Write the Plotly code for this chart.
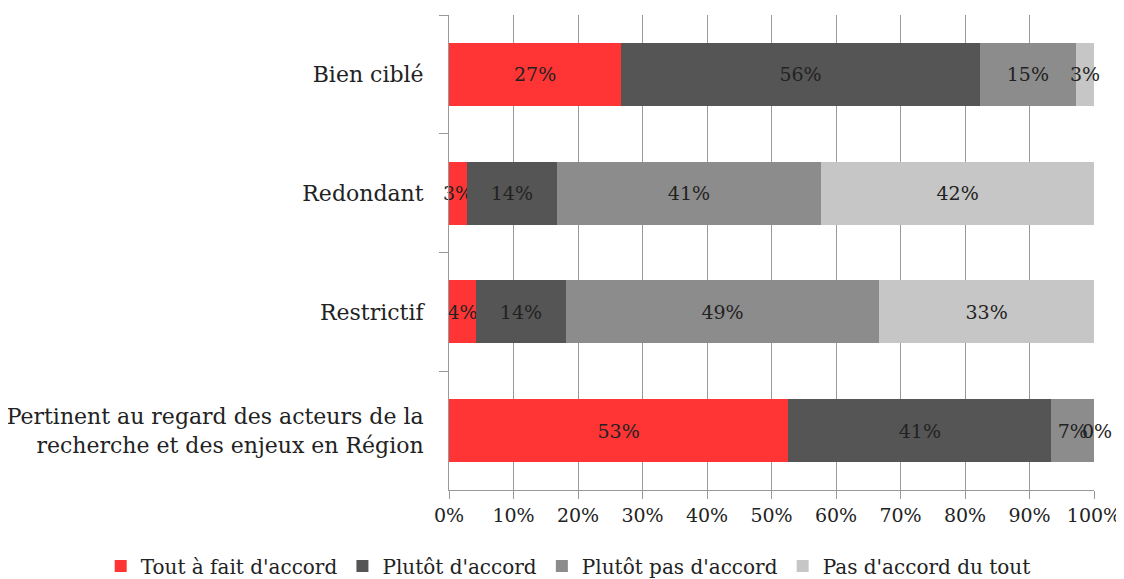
import plotly.graph_objects as go

categories = ["Bien ciblé", "Redondant", "Restrictif",
              "Pertinent au regard des acteurs de la<br>recherche et des enjeux en Région"]
series = ["Tout à fait d'accord", "Plutôt d'accord", "Plutôt pas d'accord", "Pas d'accord du tout"]
tout_a_fait = [26.7, 2.8, 4.2, 52.6]
plutot = [55.6, 13.9, 13.9, 40.8]
plutot_pas = [14.9, 41.0, 48.6, 6.6]
pas_du_tout = [2.8, 42.3, 33.3, 0.0]
x_ticks = list(range(0, 101, 10))

COLORS = ['#ff3535', '#555555', '#8c8c8c', '#c6c6c6']
FONT = 'DejaVu Serif'
TXT = '#222222'

fig = go.Figure()
all_vals = [tout_a_fait, plutot, plutot_pas, pas_du_tout]
for name, vals, col in zip(series, all_vals, COLORS):
    fig.add_trace(go.Bar(
        y=categories, x=vals, name=name, orientation='h',
        marker=dict(color=col, line=dict(width=0)),
        text=[f'{round(v)}%' for v in vals],
        textposition='inside', insidetextanchor='middle',
        constraintext='none', textangle=0, cliponaxis=False,
        textfont=dict(family=FONT, size=19, color=TXT),
    ))

# zero-width segments get their label as an annotation
for i, cat in enumerate(categories):
    start = 0
    for vals in all_vals:
        if vals[i] == 0:
            fig.add_annotation(x=start, y=cat, text='0%', showarrow=False,
                               xanchor='center', xshift=3,
                               font=dict(family=FONT, size=19, color=TXT))
        start += vals[i]

# page body adds an 8px margin, so the figure is 8px smaller than the window
fig.update_layout(
    width=1116, height=571,
    paper_bgcolor='white', plot_bgcolor='white',
    barmode='stack', bargap=0.47,
    uniformtext=dict(minsize=19, mode='show'),
    font=dict(family=FONT, size=20, color=TXT),
    margin=dict(l=441, r=30, t=7, b=89, autoexpand=False),
    legend=dict(orientation='h', x=-0.54, xanchor='left', y=-0.16, yanchor='middle',
                font=dict(family=FONT, size=20, color=TXT),
                itemwidth=30, traceorder='normal'),
    xaxis=dict(range=[0, 100], tickvals=x_ticks, ticktext=[f'{t}%' for t in x_ticks],
               showgrid=True, gridcolor='#999999', gridwidth=1,
               showline=True, linecolor='#999999', linewidth=1,
               ticks='outside', ticklen=8, tickcolor='#999999',
               tickfont=dict(family=FONT, size=19, color=TXT),
               zeroline=False, fixedrange=True, automargin=False),
    yaxis=dict(categoryorder='array', categoryarray=categories, autorange='reversed',
               showline=True, linecolor='#999999', linewidth=1,
               ticks='outside', ticklen=9, tickcolor='#999999', tickson='boundaries',
               tickfont=dict(family=FONT, size=22, color=TXT),
               showgrid=False, fixedrange=True, automargin=False, ticklabelstandoff=20),
)

fig.write_html("out.html")
